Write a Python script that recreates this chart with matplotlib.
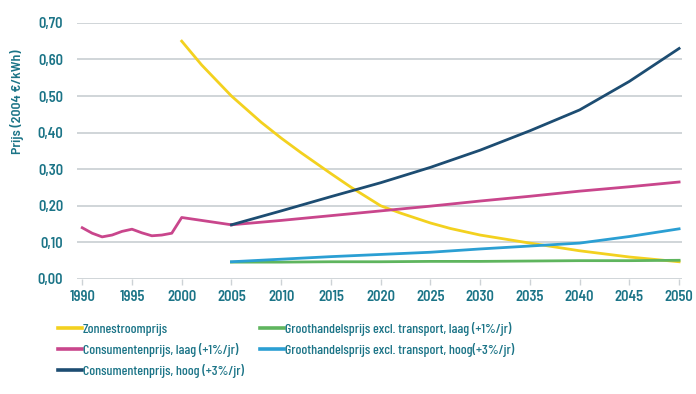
import matplotlib.pyplot as plt
from matplotlib.ticker import FuncFormatter

# historische consumentenprijs (€/kWh, prijspeil 2004)
jaren_hist = [1990, 1991, 1992, 1993, 1994, 1995, 1996, 1997, 1998, 1999,
              2000, 2001, 2002, 2003, 2004, 2005]
cons_hist = [0.140, 0.125, 0.115, 0.120, 0.130, 0.136, 0.126, 0.118, 0.120, 0.125,
             0.168, 0.164, 0.160, 0.156, 0.152, 0.148]

jaren_zon = [2000, 2002, 2005, 2008, 2010, 2012, 2015, 2017, 2020, 2022, 2025, 2027,
             2030, 2035, 2040, 2045, 2050]
zonnestroom = [0.650, 0.585, 0.500, 0.428, 0.385, 0.345, 0.288, 0.251, 0.200, 0.180,
               0.153, 0.138, 0.120, 0.098, 0.077, 0.060, 0.047]

jaren_proj = [2005, 2010, 2015, 2020, 2025, 2030, 2035, 2040, 2045, 2050]
cons_laag = [0.148, 0.160, 0.173, 0.186, 0.199, 0.213, 0.226, 0.240, 0.252, 0.265]
cons_hoog = [0.148, 0.186, 0.225, 0.263, 0.305, 0.352, 0.405, 0.462, 0.540, 0.630]
groot_laag = [0.046, 0.046, 0.047, 0.047, 0.048, 0.048, 0.049, 0.050, 0.050, 0.051]
groot_hoog = [0.047, 0.054, 0.061, 0.067, 0.073, 0.082, 0.090, 0.098, 0.116, 0.137]

teal = '#1b7487'
grid_kleur = '#cdd2d6'

plt.rcParams['font.family'] = ['Barlow Semi Condensed', 'DejaVu Sans']

fig = plt.figure(figsize=(6.96, 3.94), dpi=100)
ax = fig.add_axes([0.111, 0.292, 0.869, 0.65])

lw = 2.0
l_zon, = ax.plot(jaren_zon, zonnestroom, color='#f3d11f', lw=lw, label='Zonnestroomprijs')
l_gl, = ax.plot(jaren_proj, groot_laag, color='#5fb55e', lw=lw,
                label='Groothandelsprijs excl. transport, laag (+1%/jr)')
l_gh, = ax.plot(jaren_proj, groot_hoog, color='#2b9fd3', lw=lw,
                label='Groothandelsprijs excl. transport, hoog(+3%/jr)')
l_cl, = ax.plot(jaren_proj, cons_laag, color='#c9468c', lw=lw,
                label='Consumentenprijs, laag (+1%/jr)')
ax.plot(jaren_hist, cons_hist, color='#c9468c', lw=lw)
l_ch, = ax.plot(jaren_proj, cons_hoog, color='#1d4d72', lw=lw,
                label='Consumentenprijs, hoog (+3%/jr)')

ax.set_xlim(1989.5, 2050.3)
ax.set_ylim(0, 0.70)
ax.set_xticks(range(1990, 2051, 5))
ax.set_yticks([i / 10 for i in range(8)])
ax.yaxis.set_major_formatter(FuncFormatter(lambda v, p: f'{v:.2f}'.replace('.', ',')))

for s in ax.spines.values():
    s.set_visible(False)
ax.grid(axis='y', color=grid_kleur, lw=1.3)
ax.set_axisbelow(True)
ax.tick_params(axis='y', length=0, pad=10, labelsize=10.5, labelcolor=teal)
ax.tick_params(axis='x', length=4, width=1, color=grid_kleur, pad=4,
               labelsize=10.5, labelcolor=teal)
for t in ax.get_xticklabels() + ax.get_yticklabels():
    t.set_fontweight(600)

fig.text(0.024, 0.741, 'Prijs (2004 €/kWh)', rotation=90, ha='center', va='center',
         color=teal, fontsize=10, fontweight=600)

handles = [l_zon, l_cl, l_ch, l_gl, l_gh]
fig.legend(handles, [h.get_label() for h in handles], ncol=2, loc='upper left',
           bbox_to_anchor=(0.066, 0.215), frameon=False, handlelength=1.7,
           handletextpad=0.05, columnspacing=1.2, labelspacing=0.5,
           prop={'family': ['Barlow Condensed', 'DejaVu Sans'], 'size': 10, 'weight': 500},
           labelcolor=teal)
for h in fig.legends[0].get_lines():
    h.set_linewidth(2.6)

fig.savefig('out.png', dpi=100)
